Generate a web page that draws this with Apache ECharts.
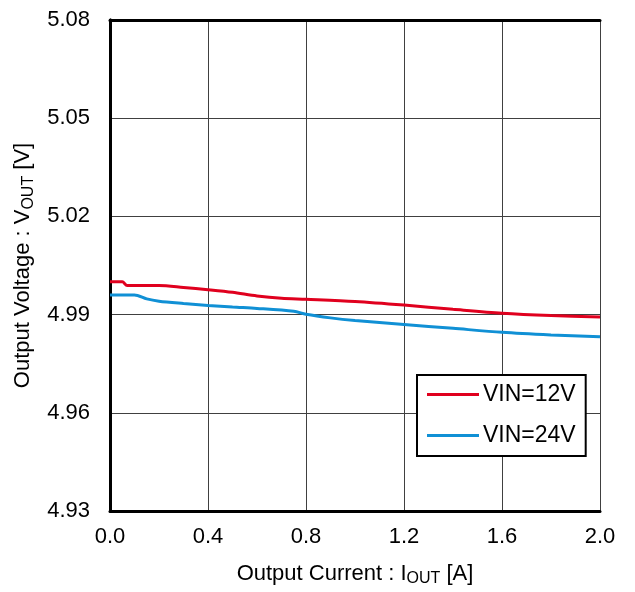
<!DOCTYPE html>
<html>
<head>
<meta charset="utf-8">
<script src="https://cdn.jsdelivr.net/npm/echarts@6/dist/echarts.min.js"></script>
<style>
html,body{margin:0;padding:0;background:#fff;}
#chart{width:635px;height:592px;}
</style>
</head>
<body>
<div id="chart"></div>
<script>
// ---- data ----
const seriesNames = ['VIN=12V', 'VIN=24V'];
const current12 = [0, 0.05, 0.07, 0.1, 0.2, 0.3, 0.4, 0.5, 0.6, 0.7, 0.8, 1.0, 1.2, 1.4, 1.6, 1.8, 2.0];
const voltage12 = [5.0000, 5.0000, 4.9989, 4.9989, 4.9989, 4.9983, 4.9976, 4.9968, 4.9957, 4.9950, 4.9947, 4.9940, 4.9929, 4.9916, 4.9904, 4.9897, 4.9893];
const current24 = [0, 0.08, 0.1, 0.15, 0.2, 0.3, 0.4, 0.5, 0.6, 0.75, 0.8, 0.9, 1.0, 1.2, 1.4, 1.6, 1.8, 2.0];
const voltage24 = [4.9960, 4.9960, 4.9960, 4.9948, 4.9941, 4.9934, 4.9928, 4.9923, 4.9919, 4.9910, 4.9901, 4.9890, 4.9882, 4.9870, 4.9858, 4.9846, 4.9838, 4.9832];
const xMin = 0, xMax = 2.0, xStep = 0.4;
const yMin = 4.93, yMax = 5.08, yStep = 0.03;

const FONT = 'Liberation Sans, Arial, sans-serif';
const chart = echarts.init(document.getElementById('chart'), null, {renderer: 'canvas'});

const pairs = (xs, ys) => xs.map((x, i) => [x, ys[i]]);

const frameAxis = {
  axisLine: {show: true, lineStyle: {color: '#000', width: 3}},
  axisTick: {show: false}, axisLabel: {show: false}, splitLine: {show: false}
};
const nameRich = {
  a: {fontSize: 22, color: '#000', fontFamily: FONT, lineHeight: 26, verticalAlign: 'middle'},
  s: {fontSize: 16, color: '#000', fontFamily: FONT, lineHeight: 26, padding: [10, 0, 0, 0], verticalAlign: 'middle'}
};

chart.setOption({
  animation: false,
  textStyle: {fontFamily: FONT},
  grid: {left: 110, right: 35, top: 20, bottom: 80, containLabel: false},
  legend: {
    orient: 'vertical', left: 417, top: 375,
    data: seriesNames,
    icon: 'rect', itemWidth: 52, itemHeight: 3, itemGap: 18,
    padding: [8, 10, 9, 10],
    borderColor: '#000', borderWidth: 2, backgroundColor: '#fff',
    textStyle: {fontSize: 23, color: '#000', fontFamily: FONT, padding: [0, 0, 0, -1]}
  },
  xAxis: [{
    type: 'value', min: xMin, max: xMax, interval: xStep,
    name: '{a|Output Current : I}{s|OUT}{a| [A]}',
    nameLocation: 'middle', nameGap: 50,
    nameTextStyle: {rich: nameRich},
    axisLine: {show: true, lineStyle: {color: '#000', width: 3}},
    axisTick: {show: false},
    axisLabel: {fontSize: 22, color: '#000', margin: 15, formatter: v => v.toFixed(1)},
    splitLine: {show: true, lineStyle: {color: '#404040', width: 1}}
  }, Object.assign({type: 'value', position: 'top', min: xMin, max: xMax}, frameAxis)],
  yAxis: [{
    type: 'value', min: yMin, max: yMax, interval: yStep,
    name: '{a|Output Voltage : V}{s|OUT}{a| [V]}',
    nameLocation: 'middle', nameGap: 66, nameRotate: 90,
    nameTextStyle: {rich: nameRich},
    axisLine: {show: true, lineStyle: {color: '#000', width: 3}},
    axisTick: {show: false},
    axisLabel: {fontSize: 22, color: '#000', margin: 20, formatter: v => v.toFixed(2)},
    splitLine: {show: true, lineStyle: {color: '#404040', width: 1}}
  }, Object.assign({type: 'value', position: 'right', min: yMin, max: yMax}, frameAxis)],
  series: [{
    name: seriesNames[0], type: 'line', data: pairs(current12, voltage12),
    showSymbol: false, smooth: 0.3, color: '#E0001E',
    lineStyle: {width: 3, color: '#E0001E'}, z: 3
  }, {
    name: seriesNames[1], type: 'line', data: pairs(current24, voltage24),
    showSymbol: false, smooth: 0.3, color: '#1090D5',
    lineStyle: {width: 3, color: '#1090D5'}, z: 2
  }]
});
</script>
</body>
</html>
